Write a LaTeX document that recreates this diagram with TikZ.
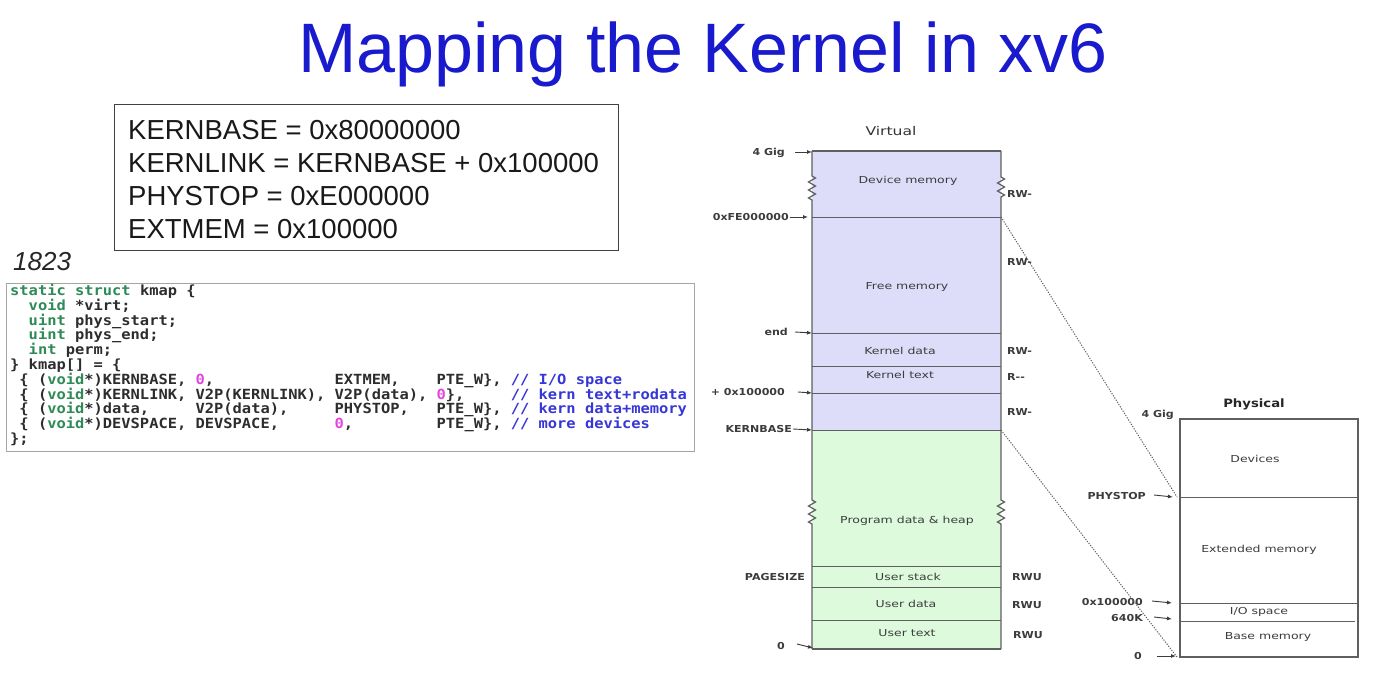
\documentclass[tikz,border=0pt]{standalone}
\usepackage{fontspec}
\setmainfont{Liberation Sans}
\newfontfamily\diagf[FakeStretch=1.3]{DejaVu Sans}
\newfontfamily\diagb[FakeStretch=1.15]{DejaVu Sans Bold}
\newfontfamily\codef[FakeStretch=1.1]{DejaVu Sans Mono}
\usetikzlibrary{arrows.meta,decorations.pathmorphing}

\definecolor{titleblue}{RGB}{25,25,205}
\definecolor{virtfill}{RGB}{221,221,250}
\definecolor{userfill}{RGB}{221,250,221}
\definecolor{edgegrey}{RGB}{95,95,95}
\definecolor{labgrey}{RGB}{60,60,60}
\definecolor{codeborder}{RGB}{165,165,165}
\definecolor{kwgreen}{RGB}{46,139,87}
\definecolor{nummag}{RGB}{225,70,225}
\definecolor{cmtblue}{RGB}{55,55,215}
\definecolor{codetext}{RGB}{45,45,45}

\newcommand\kw[1]{\textcolor{kwgreen}{#1}}
\newcommand\nm[1]{\textcolor{nummag}{#1}}
\newcommand\cm[1]{\textcolor{cmtblue}{#1}}

\tikzset{
  edge/.style={draw=edgegrey, line width=1.2pt},
  divider/.style={draw=edgegrey, line width=0.9pt},
  zz/.style={decoration={zigzag, segment length=8pt, amplitude=3.5pt}},
  dotline/.style={draw=edgegrey, line width=1pt, dash pattern=on 1.2pt off 1.4pt},
  arr/.style={draw=labgrey, line width=0.9pt, -{Latex[length=5pt,width=4pt]}},
  region/.style={font=\diagf\fontsize{9.6}{10}\selectfont, text=labgrey, inner sep=0pt, text height=7pt, text depth=0pt},
  side/.style={font=\diagb\fontsize{9.6}{10}\selectfont, text=labgrey, inner sep=0pt, text height=6.9pt, text depth=0pt},
  heading/.style={font=\diagf\fontsize{12}{13}\selectfont, text=black!80, inner sep=0pt, text height=8.7pt, text depth=0pt},
  defline/.style={font=\fontsize{27.5}{28}\selectfont, text=black!90, inner sep=0pt, anchor=base west},
  codeline/.style={font=\codef\bfseries\fontsize{14}{15}\selectfont, text=codetext, inner sep=0pt, anchor=base west},
}

\begin{document}
\begin{tikzpicture}[x=1pt, y=-1pt]
\useasboundingbox[fill=white] (0,0) rectangle (1376,676);

% Title
\node[anchor=base west, inner sep=0pt, text=titleblue, font=\fontsize{70}{70}\selectfont] (title) at (298,73) {Mapping the Kernel in xv6};

% Constants box
\node[draw=black!75, line width=1.3pt, minimum width=504pt, minimum height=146pt, anchor=north west, inner sep=0pt] (defs) at (114,104) {};
\node[defline] (d1) at (128,140) {KERNBASE = 0x80000000};
\node[defline] (d2) at (128,172.5) {KERNLINK = KERNBASE + 0x100000};
\node[defline] (d3) at (128,205.5) {PHYSTOP = 0xE000000};
\node[defline] (d4) at (128,238.5) {EXTMEM = 0x100000};

% Line number
\node[anchor=base west, inner sep=0pt, font=\itshape\fontsize{26}{26}\selectfont, text=black!85] (lineno) at (13,271) {1823};

% Source listing
\node[draw=codeborder, line width=1pt, minimum width=688pt, minimum height=168pt, anchor=north west, inner sep=0pt] (codebox) at (6,283) {};
\node[codeline] (c1) at (10,295.5) {\kw{static} \kw{struct} kmap \{};
\node[codeline] (c2) at (10,310.3) {~~\kw{void} *virt;};
\node[codeline] (c3) at (10,325.1) {~~\kw{uint} phys\_start;};
\node[codeline] (c4) at (10,339.9) {~~\kw{uint} phys\_end;};
\node[codeline] (c5) at (10,354.7) {~~\kw{int} perm;};
\node[codeline] (c6) at (10,369.5) {\} kmap[] = \{};
\node[codeline] (c7) at (10,384.3) {~\{~(\kw{void}*)KERNBASE,~\nm{0},~~~~~~~~~~~~~EXTMEM,~~~~PTE\_W\},~\cm{//~I/O~space}};
\node[codeline] (c8) at (10,399.1) {~\{~(\kw{void}*)KERNLINK,~V2P(KERNLINK),~V2P(data),~\nm{0}\},~~~~~\cm{//~kern~text+rodata}};
\node[codeline] (c9) at (10,413.9) {~\{~(\kw{void}*)data,~~~~~V2P(data),~~~~~PHYSTOP,~~~PTE\_W\},~\cm{//~kern~data+memory}};
\node[codeline] (c10) at (10,428.7) {~\{~(\kw{void}*)DEVSPACE,~DEVSPACE,~~~~~~\nm{0},~~~~~~~~~PTE\_W\},~\cm{//~more~devices}};
\node[codeline] (c11) at (10,443.5) {\};};

% ---------- Virtual address space ----------
\fill[virtfill] (812,151) rectangle (1001,430);
\fill[userfill] (812,430) rectangle (1001,649);

\coordinate (vTL) at (812,151);
\coordinate (vTR) at (1001,151);
\coordinate (vBL) at (812,649);
\coordinate (vBR) at (1001,649);
\coordinate (vFE) at (1001,217);
\coordinate (vKB) at (1001,430);

\draw[edge] (vTL) -- (vTR);
\draw[edge] (vBL) -- (vBR);
\draw[edge] (vTL) -- (812,176) decorate[zz]{-- (812,203)} -- (812,500) decorate[zz]{-- (812,525)} -- (vBL);
\draw[edge] (vTR) -- (1001,177) decorate[zz]{-- (1001,199)} -- (1001,500) decorate[zz]{-- (1001,525)} -- (vBR);

\foreach \yy in {217,333,366,393,430,566,587,620}
  \draw[divider] (812,\yy) -- (1001,\yy);

\node[heading] (virt) at (891,131) {Virtual};

\node[region] (devmem) at (908,180) {Device memory};
\node[region] (freemem) at (907,286) {Free memory};
\node[region] (kdata) at (900,351) {Kernel data};
\node[region] (ktext) at (900,375) {Kernel text};
\node[region] (heap) at (907,520) {Program data \& heap};
\node[region] (ustack) at (908,577) {User stack};
\node[region] (udata) at (906,604) {User data};
\node[region] (utext) at (907,633) {User text};

% virtual addresses
\node[side, anchor=east] (l4g) at (785,152) {4 Gig};
\node[side, anchor=east] (lfe) at (789,217) {0xFE000000};
\node[side, anchor=east] (lend) at (788,332) {end};
\node[side, anchor=east] (lkl) at (785,392) {+ 0x100000};
\node[side, anchor=east] (lkb) at (792,429) {KERNBASE};
\node[side, anchor=east] (lps) at (805,577) {PAGESIZE};
\node[side, anchor=east] (lz) at (785,646) {0};

\coordinate (a4g) at (812,152);
\coordinate (afe) at (808,217);
\coordinate (aend) at (812,333);
\coordinate (akl) at (812,393);
\coordinate (akb) at (812,430);
\coordinate (az) at (813,648);

\draw[arr] ([xshift=10pt]l4g.east) -- (a4g);
\draw[arr] ([xshift=1pt]lfe.east) -- (afe);
\draw[arr] ([xshift=7pt]lend.east) -- (aend);
\draw[arr] ([xshift=13pt]lkl.east) -- (akl);
\draw[arr] ([xshift=1pt]lkb.east) -- (akb);
\draw[arr] ([xshift=12pt,yshift=2pt]lz.east) -- (az);

% permissions
\node[side, anchor=west] (p1) at (1007,194) {RW-};
\node[side, anchor=west] (p2) at (1007,262) {RW-};
\node[side, anchor=west] (p3) at (1007,351) {RW-};
\node[side, anchor=west] (p4) at (1007,377) {R--};
\node[side, anchor=west] (p5) at (1007,412) {RW-};
\node[side, anchor=west] (p6) at (1012,577) {RWU};
\node[side, anchor=west] (p7) at (1012,605) {RWU};
\node[side, anchor=west] (p8) at (1013,635) {RWU};

% ---------- Physical memory ----------
\coordinate (pTL) at (1180,419);
\coordinate (pBR) at (1358,657);
\coordinate (pPS) at (1177,497);
\coordinate (pZ) at (1177,657);

\draw[edge] (pTL) rectangle (pBR);
\draw[divider] (1180,497) -- (1358,497);
\draw[divider] (1180,603) -- (1358,603);
\draw[divider] (1180,621) -- (1355,621);

\node[heading, font=\diagb\fontsize{11.5}{13}\selectfont, text=black!85] (phys) at (1254,403) {Physical};
\node[region] (devs) at (1255,459) {Devices};
\node[region] (extm) at (1259,549) {Extended memory};
\node[region] (iosp) at (1259,611) {I/O space};
\node[region] (basem) at (1268,636) {Base memory};

\node[side, anchor=east] (q4g) at (1174,414) {4 Gig};
\node[side, anchor=east] (qps) at (1146,496) {PHYSTOP};
\node[side, anchor=east] (qext) at (1143,602) {0x100000};
\node[side, anchor=east] (q640) at (1143,618) {640K};
\node[side, anchor=east] (qz) at (1142,656) {0};

\coordinate (bps) at (1173,497);
\coordinate (bext) at (1172,603);
\coordinate (b640) at (1172,619);
\coordinate (bz) at (1176,656);

\draw[arr] ([xshift=8pt,yshift=1pt]qps.east) -- (bps);
\draw[arr] ([xshift=9pt,yshift=1pt]qext.east) -- (bext);
\draw[arr] ([xshift=11pt,yshift=1pt]q640.east) -- (b640);
\draw[arr] ([xshift=15pt]qz.east) -- (bz);

% mapping guides
\draw[dotline] (vFE) -- (pPS);
\draw[dotline] (vKB) -- (pZ);
\end{tikzpicture}
\end{document}
